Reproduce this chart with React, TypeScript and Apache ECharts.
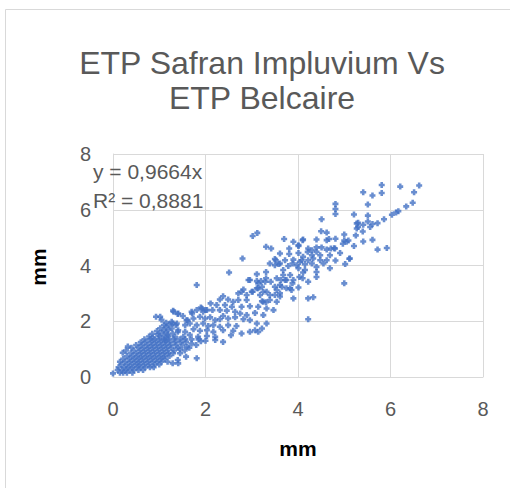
import React, { useEffect, useRef } from "react";
import * as echarts from "echarts";

// Axis ticks (both axes)
const axisMin = 0;
const axisMax = 8;
const axisStep = 2;

const titleLines = ["ETP Safran Impluvium Vs", "ETP Belcaire"];
const trendLines = ["y = 0,9664x", "R² = 0,8881"];
const xAxisTitle = "mm";
const yAxisTitle = "mm";

// Scatter points [ETP Belcaire, ETP Safran]
const lowCluster: [number, number][] = [
  [0.0, 0.13], [0.15, 0.15], [0.22, 0.15], [0.3, 0.15], [0.42, 0.15],
  [0.1, 0.25], [0.2, 0.25], [0.28, 0.25], [0.36, 0.25], [0.45, 0.25], [0.55, 0.25], [0.65, 0.25],
  [0.12, 0.35], [0.24, 0.35], [0.33, 0.35], [0.42, 0.35], [0.52, 0.35], [0.6, 0.35], [0.7, 0.35], [0.8, 0.35], [0.88, 0.35],
  [0.18, 0.45], [0.3, 0.45], [0.4, 0.45], [0.5, 0.45], [0.58, 0.45], [0.68, 0.45], [0.78, 0.45], [0.9, 0.45], [1.0, 0.45],
  [0.15, 0.55], [0.26, 0.55], [0.37, 0.55], [0.47, 0.55], [0.56, 0.55], [0.66, 0.55], [0.76, 0.55], [0.86, 0.55], [0.96, 0.55], [1.05, 0.55],
  [0.22, 0.65], [0.35, 0.65], [0.45, 0.65], [0.55, 0.65], [0.64, 0.65], [0.74, 0.65], [0.84, 0.65], [0.94, 0.65], [1.04, 0.65], [1.12, 0.65],
  [0.3, 0.75], [0.42, 0.75], [0.52, 0.75], [0.62, 0.75], [0.72, 0.75], [0.82, 0.75], [0.92, 0.75], [1.02, 0.75], [1.12, 0.75], [1.22, 0.75],
  [0.21, 0.87], [0.38, 0.85], [0.5, 0.85], [0.6, 0.85], [0.7, 0.85], [0.8, 0.85], [0.9, 0.85], [1.0, 0.85], [1.1, 0.85], [1.2, 0.85], [1.3, 0.85],
  [0.28, 0.95], [0.45, 0.95], [0.58, 0.95], [0.68, 0.95], [0.78, 0.95], [0.88, 0.95], [0.98, 0.95], [1.08, 0.95], [1.18, 0.95], [1.32, 0.95],
  [0.4, 1.05], [0.55, 1.05], [0.66, 1.05], [0.76, 1.05], [0.86, 1.05], [0.96, 1.05], [1.06, 1.05], [1.16, 1.05], [1.26, 1.05], [1.4, 1.05],
  [0.32, 1.09], [0.5, 1.15], [0.62, 1.15], [0.74, 1.15], [0.84, 1.15], [0.94, 1.15], [1.04, 1.15], [1.14, 1.15], [1.24, 1.15], [1.36, 1.15], [1.5, 1.15],
  [0.6, 1.25], [0.7, 1.25], [0.82, 1.25], [0.92, 1.25], [1.02, 1.25], [1.12, 1.25], [1.22, 1.25], [1.34, 1.25], [1.46, 1.25], [1.58, 1.25],
  [0.68, 1.35], [0.8, 1.35], [0.9, 1.35], [1.0, 1.35], [1.1, 1.35], [1.2, 1.35], [1.32, 1.35], [1.44, 1.35], [1.56, 1.35], [1.7, 1.35],
  [0.78, 1.45], [0.86, 1.42], [0.97, 1.53], [1.0, 1.45], [1.1, 1.45], [1.2, 1.45], [1.13, 1.33], [1.18, 1.51], [1.29, 1.56], [1.4, 1.62],
  [0.85, 1.55], [1.05, 1.58], [1.15, 1.6], [0.95, 1.65], [1.1, 1.68], [1.2, 1.7], [1.02, 1.75], [1.15, 1.8], [1.1, 1.86], [1.22, 1.88],
  [1.15, 1.95], [1.05, 2.05], [0.93, 2.16], [1.02, 2.16], [1.18, 0.55], [1.29, 0.49], [1.4, 0.61], [1.58, 0.73], [1.41, 0.49], [1.81, 0.67],
  [1.45, 0.85], [1.55, 0.95], [1.45, 1.0], [1.6, 1.08], [1.7, 1.2], [1.65, 1.05], [1.8, 1.15], [1.9, 1.28], [2.0, 1.3], [1.85, 1.35],
];

const midCluster: [number, number][] = [
  [1.31, 2.34], [1.4, 2.26], [1.51, 2.19], [1.9, 2.49], [2.0, 2.4], [1.71, 2.28], [1.61, 2.04], [1.29, 1.92], [1.36, 1.86],
  [1.3, 2.38], [1.41, 2.28], [1.7, 2.34], [1.81, 2.4], [1.92, 2.46], [1.95, 2.34], [2.03, 2.4], [2.15, 2.4], [2.31, 2.4],
  [2.46, 2.38], [2.64, 2.34], [2.75, 2.28], [2.89, 2.22], [3.07, 2.3], [3.25, 2.22], [1.59, 2.04], [1.74, 2.1], [1.88, 2.16],
  [1.99, 2.1], [2.1, 2.14], [2.21, 2.04], [2.31, 2.07], [2.38, 2.19], [2.49, 2.1], [2.64, 2.14], [2.82, 2.07], [2.96, 2.04],
  [1.27, 1.98], [1.38, 1.92], [1.56, 1.86], [1.66, 1.92], [1.81, 1.86], [1.95, 1.92], [2.06, 1.83], [2.17, 1.86], [2.31, 1.8],
  [2.49, 1.86], [2.67, 1.83], [3.11, 1.92], [3.32, 1.92], [1.27, 1.74], [1.41, 1.68], [1.56, 1.62], [1.74, 1.71], [1.88, 1.66],
  [2.03, 1.68], [2.17, 1.62], [2.38, 1.68], [2.6, 1.66], [2.78, 1.56], [2.96, 1.62], [3.14, 1.62], [3.07, 1.68], [3.22, 1.74],
  [1.34, 1.44], [1.52, 1.44], [1.66, 1.51], [1.84, 1.44], [2.03, 1.47], [2.21, 1.44], [2.21, 1.33], [2.38, 1.26], [2.55, 1.5],
  [2.8, 4.25], [2.51, 3.75], [1.81, 3.3], [2.93, 3.48], [3.14, 3.36], [3.29, 3.42], [2.78, 3.06], [2.71, 3.0], [2.82, 3.14],
  [2.89, 2.94], [3.02, 3.06], [3.14, 3.18], [3.18, 2.94], [3.32, 3.06], [3.54, 3.12], [2.38, 2.9], [2.31, 2.78], [2.49, 2.78],
  [2.6, 2.7], [2.71, 2.76], [2.89, 2.76], [3.25, 2.7], [3.39, 2.76], [3.54, 2.7], [2.11, 2.64], [2.24, 2.58], [2.42, 2.58],
  [2.57, 2.52], [2.78, 2.52], [2.96, 2.54], [3.14, 2.52], [3.32, 2.46], [3.47, 2.4],
];

const upperCluster: [number, number][] = [
  [3.02, 5.06], [3.12, 5.17], [3.31, 4.67], [3.42, 4.61], [3.5, 4.23], [3.39, 4.07], [3.5, 4.01], [3.52, 4.19], [3.58, 4.05],
  [3.11, 3.69], [3.31, 3.77], [3.31, 3.54], [2.96, 3.48], [3.11, 3.44], [3.2, 3.44], [3.41, 3.42], [3.54, 3.54], [3.63, 3.48],
  [3.68, 3.66], [3.75, 3.48], [3.88, 3.36], [3.11, 3.18], [3.22, 3.24], [3.5, 3.24], [3.61, 3.3], [3.75, 3.18], [3.0, 3.06],
  [3.25, 3.06], [3.39, 2.94], [3.5, 2.94], [3.61, 3.0], [3.22, 2.72], [3.31, 2.68], [3.7, 4.95], [3.9, 4.85], [4.1, 4.91],
  [4.4, 4.93], [4.62, 4.91], [3.81, 4.61], [4.01, 4.7], [4.22, 4.61], [4.3, 4.55], [4.4, 4.65], [4.51, 4.65], [3.61, 4.43],
  [3.81, 4.41], [4.01, 4.45], [4.11, 4.31], [4.21, 4.49], [4.3, 4.37], [4.4, 4.49], [4.48, 4.37], [4.62, 4.57], [4.69, 4.37],
  [4.8, 4.61], [3.72, 4.19], [3.9, 4.21], [4.08, 4.19], [4.22, 4.19], [4.33, 4.25], [4.48, 4.19], [4.62, 4.19], [3.61, 4.07],
  [3.79, 3.98], [3.97, 4.01], [4.15, 4.05], [4.3, 4.07], [4.4, 3.95], [4.55, 4.07], [4.69, 3.9], [3.68, 3.84], [3.83, 3.66],
  [4.01, 3.9], [4.15, 3.84], [4.4, 3.77], [4.4, 3.59], [4.11, 3.75], [4.03, 3.59], [3.72, 3.48], [3.9, 3.48], [4.1, 3.54],
  [4.22, 3.42], [3.65, 3.24], [3.83, 3.18], [4.01, 3.21], [3.9, 2.82], [4.22, 2.82], [4.33, 2.86], [4.22, 2.07], [3.61, 2.89],
  [3.86, 3.12], [4.11, 4.93], [4.01, 4.73], [4.04, 4.13], [3.88, 4.07],
];

const topCluster: [number, number][] = [
  [5.81, 6.89], [6.21, 6.83], [6.62, 6.87], [5.41, 6.63], [5.61, 6.51], [5.81, 6.6], [6.51, 6.63], [4.81, 6.21], [4.81, 6.03],
  [4.81, 5.85], [5.51, 6.19], [6.48, 6.25], [6.34, 6.12], [6.17, 5.95], [6.12, 5.9], [6.03, 5.82], [5.86, 5.66], [5.21, 5.83],
  [5.51, 5.79], [5.51, 5.58], [5.72, 5.52], [5.61, 5.49], [5.3, 5.53], [5.41, 5.46], [5.3, 5.38], [5.56, 5.38], [5.4, 5.22],
  [5.0, 5.11], [5.25, 5.08], [4.81, 4.96], [5.0, 4.9], [5.09, 4.9], [4.97, 4.78], [5.41, 4.86], [5.61, 4.92], [5.21, 4.7],
  [4.78, 4.62], [4.91, 4.45], [5.72, 4.57], [5.92, 4.63], [5.11, 4.24], [4.81, 4.18], [4.51, 5.66], [4.5, 5.23], [4.62, 5.18],
  [5.27, 5.33], [5.27, 5.51], [5.05, 4.85], [4.67, 4.95], [4.71, 4.61], [5.02, 4.05], [5.12, 4.25], [5.0, 3.36],
];

const allPoints = [...lowCluster, ...midCluster, ...upperCluster, ...topCluster];

const PLUS = "path://M2,0H5V2H7V5H5V7H2V5H0V2H2Z";
const FONT = "'Liberation Sans', Arial, sans-serif";

export default function App() {
  const ref = useRef<HTMLDivElement>(null);
  useEffect(() => {
    if (!ref.current) return;
    const chart = echarts.init(ref.current, undefined, { renderer: "svg" });
    const axisCommon = {
      type: "value" as const,
      min: axisMin,
      max: axisMax,
      interval: axisStep,
      axisLine: { show: true, lineStyle: { color: "#d9d9d9", width: 1 } },
      axisTick: { show: false },
      splitLine: { show: true, lineStyle: { color: "#d9d9d9", width: 1 } },
    };
    chart.setOption({
      animation: false,
      backgroundColor: "#ffffff",
      grid: { left: 113, top: 154, width: 370, height: 223 },
      xAxis: {
        ...axisCommon,
        axisLabel: { color: "#595959", fontSize: 20, fontFamily: FONT, margin: 22 },
      },
      yAxis: {
        ...axisCommon,
        axisLabel: { color: "#595959", fontSize: 20, fontFamily: FONT, margin: 22 },
      },
      series: [
        {
          type: "scatter",
          data: allPoints,
          symbol: PLUS,
          symbolSize: 6,
          itemStyle: { color: "#4472C4" },
        },
      ],
      graphic: [
        {
          type: "rect",
          silent: true,
          shape: { x: 5.5, y: 9.5, width: 700, height: 700 },
          style: { fill: "none", stroke: "#d9d9d9", lineWidth: 1 },
          z: -1,
        },
        {
          type: "text",
          x: 262,
          y: 63,
          style: { text: titleLines[0], fill: "#595959", font: `32px ${FONT}`, textAlign: "center", textVerticalAlign: "middle" },
        },
        {
          type: "text",
          x: 262,
          y: 98,
          style: { text: titleLines[1], fill: "#595959", font: `32px ${FONT}`, textAlign: "center", textVerticalAlign: "middle" },
        },
        {
          type: "text",
          x: 93,
          y: 171,
          z: 10,
          style: { text: trendLines[0], fill: "#595959", font: `21px ${FONT}`, textAlign: "left", textVerticalAlign: "middle" },
        },
        {
          type: "text",
          x: 93,
          y: 200,
          z: 10,
          style: { text: trendLines[1], fill: "#595959", font: `21px ${FONT}`, textAlign: "left", textVerticalAlign: "middle" },
        },
        {
          type: "text",
          x: 298,
          y: 448,
          style: { text: xAxisTitle, fill: "#000000", font: `bold 21px ${FONT}`, textAlign: "center", textVerticalAlign: "middle" },
        },
        {
          type: "text",
          x: 38,
          y: 267,
          rotation: Math.PI / 2,
          style: { text: yAxisTitle, fill: "#000000", font: `bold 21px ${FONT}`, textAlign: "center", textVerticalAlign: "middle" },
        },
      ],
    });
    return () => chart.dispose();
  }, []);
  return (
    <div
      ref={ref}
      style={{ position: "fixed", left: 0, top: 0, width: 510, height: 488, background: "#fff" }}
    />
  );
}
